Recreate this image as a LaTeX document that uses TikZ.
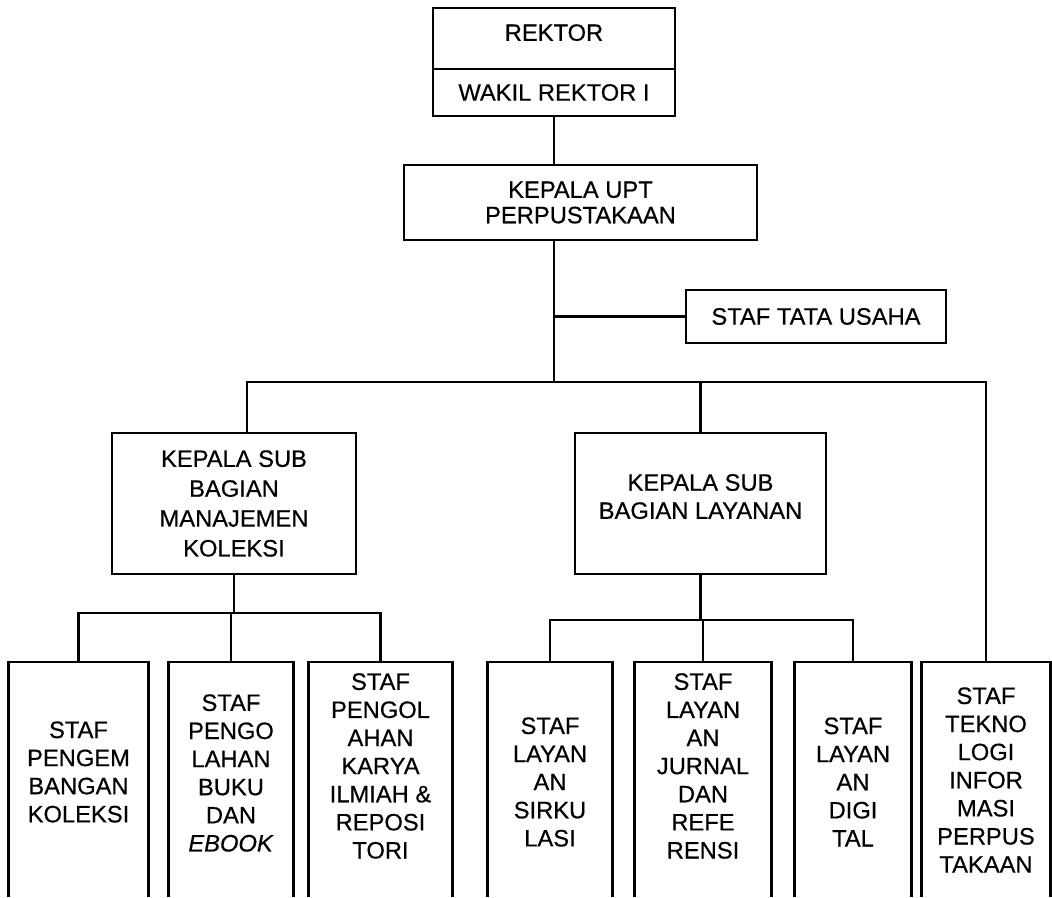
\documentclass[tikz,border=0pt]{standalone}
\usepackage{fontspec}
\setmainfont{Liberation Sans}[UprightFeatures={FakeBold=0.5}, ItalicFeatures={FakeBold=0.5}]
\tikzset{
	kotak/.style={draw, line width=1.4pt, align=center, font=\fontsize{13.5}{17}\selectfont},
	stafbox/.style={align=center, font=\fontsize{13.5}{16}\selectfont},
	garis/.style={line width=1.4pt}
}
\begin{document}
\begin{tikzpicture}[x=0.02cm, y=-0.02cm]
	\useasboundingbox (0,0) rectangle (1052,897);
	\coordinate (top) at (0,662);
	\coordinate (bottom) at (0,897);
	\coordinate (bus) at (554,382);
	\coordinate (busL) at (247,382);
	\coordinate (kolBus) at (0,613);
	\coordinate (layBus) at (0,620);
	\node[kotak, minimum width=4.84cm, minimum height=1.22cm, text depth=6.8pt] at (554,38.5) (rektor) {REKTOR};
	\node[kotak, minimum width=4.84cm, minimum height=0.94cm] at (554,92.5) (wakil) {WAKIL REKTOR I};
	\node[kotak, minimum width=7.06cm, minimum height=1.5cm, font=\fontsize{13.5}{14.5}\selectfont] at (580.5,202.5) (upt) {KEPALA UPT\\PERPUSTAKAAN};
	\node[kotak, minimum width=5.2cm, minimum height=1.06cm] at (816,316.5) (tatausaha) {STAF TATA USAHA};
	\node[kotak, minimum width=4.88cm, minimum height=2.82cm] at (234,503.5) (ksManajemen) {KEPALA SUB\\BAGIAN\\MANAJEMEN\\KOLEKSI};
	\node[kotak, minimum width=5.02cm, minimum height=2.82cm, text depth=8pt, font=\fontsize{13.5}{16}\selectfont] at (700.5,503.5) (ksLayanan) {KEPALA SUB\\BAGIAN LAYANAN};
	\node[stafbox, minimum width=2.78cm] at (78.5,772) (s1) {STAF\\PENGEM\\BANGAN\\KOLEKSI};
	\node[stafbox, minimum width=2.48cm] at (231,773) (s2) {STAF\\PENGO\\LAHAN\\BUKU\\DAN\\\textit{EBOOK}};
	\node[stafbox, minimum width=2.86cm] at (380.5,766) (s3) {STAF\\PENGOL\\AHAN\\KARYA\\ILMIAH \&\\REPOSI\\TORI};
	\node[stafbox, minimum width=2.48cm] at (550,782) (s4) {STAF\\LAYAN\\AN\\SIRKU\\LASI};
	\node[stafbox, minimum width=2.72cm] at (703,766) (s5) {STAF\\LAYAN\\AN\\JURNAL\\DAN\\REFE\\RENSI};
	\node[stafbox, minimum width=2.32cm] at (853,782) (s6) {STAF\\LAYAN\\AN\\DIGI\\TAL};
	\node[stafbox, minimum width=2.56cm] at (986,780) (s7) {STAF\\TEKNO\\LOGI\\INFOR\\MASI\\PERPUS\\TAKAAN};
	\foreach \b in {s1,s2,s3,s4,s5,s6,s7}
		\draw[garis] (\b.west |- bottom) -- (\b.west |- top) -- (\b.east |- top) -- (\b.east |- bottom);
	\draw[garis] (wakil.south) -- (wakil.south |- upt.north);
	\draw[garis] (bus |- upt.south) -- (bus);
	\draw[garis] (tatausaha.west) -- (tatausaha.west -| bus);
	\draw[garis] (busL |- ksManajemen.north) -- (busL) -- (bus -| s7) -- (s7 |- top);
	\draw[garis] (ksLayanan.north) -- (ksLayanan.north |- bus);
	\draw[garis] (ksManajemen.south) -- (ksManajemen.south |- kolBus);
	\draw[garis] (s1 |- top) -- (s1 |- kolBus) -- (s3 |- kolBus) -- (s3 |- top);
	\draw[garis] (s2 |- kolBus) -- (s2 |- top);
	\draw[garis] (ksLayanan.south) -- (ksLayanan.south |- layBus);
	\draw[garis] (s4 |- top) -- (s4 |- layBus) -- (s6 |- layBus) -- (s6 |- top);
	\draw[garis] (s5 |- layBus) -- (s5 |- top);
\end{tikzpicture}
\end{document}
